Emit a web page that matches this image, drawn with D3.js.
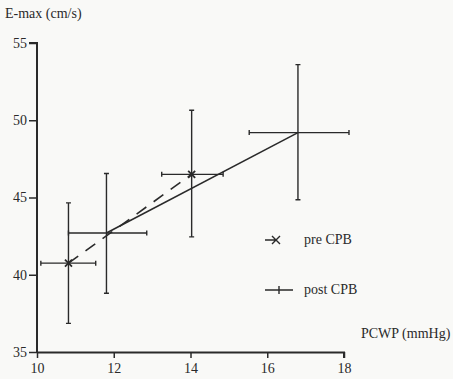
<!DOCTYPE html>
<html>
<head>
<meta charset="utf-8">
<script src="https://cdn.jsdelivr.net/npm/d3@7"></script>
<style>
  html, body { margin: 0; padding: 0; background: #f9f9f7; }
  svg { display: block; }
  text { font-family: "Liberation Serif", "DejaVu Serif", serif; fill: #2a2a2a; }
</style>
</head>
<body>
<svg id="chart" width="453" height="379"></svg>
<script>
// values
const groups = ['pre CPB', 'post CPB'];
const preX = [10.82, 14.03];
const preY = [40.75, 46.5];
const preXLo = [10.1, 13.25];
const preXHi = [11.53, 14.85];
const preYLo = [36.85, 42.45];
const preYHi = [44.65, 50.65];
const postX = [11.81, 16.8];
const postY = [42.7, 49.2];
const postXLo = [10.82, 15.53];
const postXHi = [12.86, 18.13];
const postYLo = [38.8, 44.85];
const postYHi = [46.55, 53.6];
const xTicks = [10, 12, 14, 16, 18];
const yTicks = [35, 40, 45, 50, 55];

const ink = '#2a2a2a';
const svg = d3.select('#chart');

const x = d3.scaleLinear().domain([10, 18]).range([37, 344]);
const y = d3.scaleLinear().domain([35, 55]).range([352, 43]);

// axes
const xAxis = svg.append('g')
  .attr('transform', `translate(0,${y(35)})`)
  .call(d3.axisBottom(x).tickValues(xTicks).tickSize(6).tickPadding(5).tickFormat(d3.format('d')));
const yAxis = svg.append('g')
  .attr('transform', `translate(${x(10)},0)`)
  .call(d3.axisLeft(y).tickValues(yTicks).tickSize(8).tickPadding(2).tickFormat(d3.format('d')));

[xAxis, yAxis].forEach((g) => {
  g.select('.domain').attr('stroke', ink).attr('stroke-width', 2);
  g.selectAll('.tick line').attr('stroke', ink).attr('stroke-width', 1.5);
  g.selectAll('.tick text')
    .attr('fill', ink)
    .style('font-family', '"Liberation Serif", serif')
    .style('font-size', '14px');
});
xAxis.select('.domain').attr('d', `M${x(10)},0.5H${x(18)}V6`);
yAxis.select('.domain').attr('d', `M-8,${y(55)}H0V${y(35)}`);

svg.append('text').attr('x', 5).attr('y', 18).style('font-size', '14px').text('E-max (cm/s)');
svg.append('text').attr('x', 361).attr('y', 338).style('font-size', '14px').text('PCWP (mmHg)');

// error bars
const cap = 2.5;
function errorBars(cls, xs, ys, xLo, xHi, yLo, yHi) {
  const g = svg.append('g').attr('class', cls)
    .attr('stroke', ink).attr('stroke-width', 1.4).attr('fill', 'none');
  xs.forEach((xv, i) => {
    const cx = x(xv), cy = y(ys[i]);
    const l = x(xLo[i]), r = x(xHi[i]), t = y(yHi[i]), b = y(yLo[i]);
    g.append('path').attr('d',
      `M${l},${cy}H${r}M${cx},${t}V${b}` +
      `M${l},${cy - cap}V${cy + cap}M${r},${cy - cap}V${cy + cap}` +
      `M${cx - cap},${t}H${cx + cap}M${cx - cap},${b}H${cx + cap}`);
  });
}
errorBars('pre-bars', preX, preY, preXLo, preXHi, preYLo, preYHi);
errorBars('post-bars', postX, postY, postXLo, postXHi, postYLo, postYHi);

// connecting lines
const line = d3.line().x((d) => x(d[0])).y((d) => y(d[1]));
svg.append('path')
  .datum(preX.map((v, i) => [v, preY[i]]))
  .attr('d', line)
  .attr('fill', 'none').attr('stroke', ink).attr('stroke-width', 1.6)
  .attr('stroke-dasharray', '12,9');
svg.append('path')
  .datum(postX.map((v, i) => [v, postY[i]]))
  .attr('d', line)
  .attr('fill', 'none').attr('stroke', ink).attr('stroke-width', 1.6);

// x markers for pre CPB
const m = 3.5;
svg.append('g').selectAll('path')
  .data(preX.map((v, i) => [v, preY[i]]))
  .enter()
  .append('path')
  .attr('d', (d) => {
    const cx = x(d[0]), cy = y(d[1]);
    return `M${cx - m},${cy - m}L${cx + m},${cy + m}M${cx - m},${cy + m}L${cx + m},${cy - m}`;
  })
  .attr('stroke', ink).attr('stroke-width', 1.8);

// legend
const legend = svg.append('g').attr('stroke', ink).attr('stroke-width', 1.4);
legend.append('path').attr('d', 'M265,240H276M272,236L280,244M272,244L280,236');
legend.append('path').attr('d', 'M265,290H293M279,286V294');
svg.append('text').attr('x', 304).attr('y', 244).style('font-size', '14px').text(groups[0]);
svg.append('text').attr('x', 304).attr('y', 294).style('font-size', '14px').text(groups[1]);
</script>
</body>
</html>
